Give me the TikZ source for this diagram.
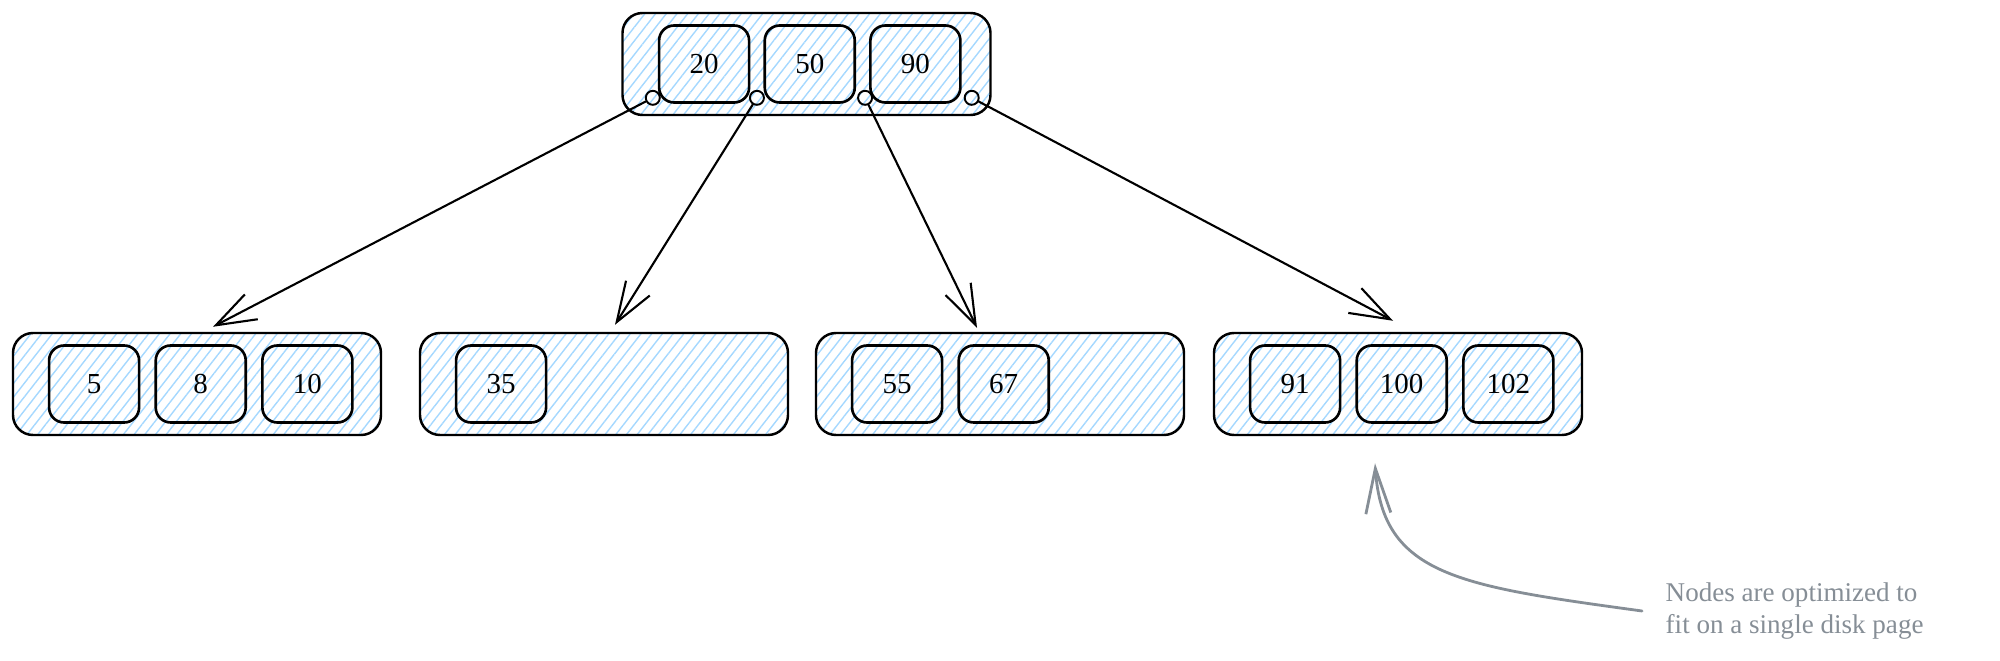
\documentclass[tikz,border=0pt]{standalone}
\usepackage{fontspec}
\setmainfont{Liberation Serif}
\usetikzlibrary{positioning,calc,arrows.meta,patterns.meta}
\definecolor{hatch}{HTML}{A5D8FF}
\definecolor{notegray}{HTML}{868E96}

\begin{document}
\begin{tikzpicture}[>={Straight Barb[length=0.8cm,width=0.56cm]},
    page/.style={draw,line width=1.4pt,rounded corners=0.4cm,
      minimum width=7.36cm,minimum height=2.04cm,
      pattern={Lines[angle=52,distance=4.8pt,line width=0.8pt]},pattern color=hatch},
    key/.style={draw,line width=1.5pt,rounded corners=0.3cm,
      minimum width=1.8cm,minimum height=1.54cm,inner sep=0pt,
      font=\fontsize{16.5}{19}\selectfont},
    ptr/.style={draw,circle,line width=1.1pt,minimum size=0.28cm,inner sep=0pt},
    link/.style={->,line width=1.2pt,line cap=round},
    note/.style={text=notegray,align=left,font=\fontsize{15.4}{17.8}\selectfont}]
  \useasboundingbox (0,0) rectangle (40,13.22);

  % root page
  \node[page] (root) at (16.13,11.94) {};
  \node[key,right=0.72cm of root.west] (k20) {20};
  \node[key,right=0.26cm of k20] (k50) {50};
  \node[key,right=0.26cm of k50] (k90) {90};
  \node[ptr] (p1) at ($(k20.south west)+(-0.1,0.12)$) {};
  \node[ptr] (p2) at ($(k20.south east)!0.5!(k50.south west)+(0,0.12)$) {};
  \node[ptr] (p3) at ($(k50.south east)!0.5!(k90.south west)+(0.05,0.12)$) {};
  \node[ptr] (p4) at ($(k90.south east)+(0.2,0.12)$) {};

  % leaf pages
  \node[page] (l1) at (3.94,5.54) {};
  \node[page] (l2) at (12.08,5.54) {};
  \node[page] (l3) at (20.0,5.54) {};
  \node[page] (l4) at (27.96,5.54) {};

  \node[key,right=0.72cm of l1.west] (k5) {5};
  \node[key,right=0.28cm of k5] (k8) {8};
  \node[key,right=0.28cm of k8] (k10) {10};
  \node[key,right=0.72cm of l2.west] (k35) {35};
  \node[key,right=0.72cm of l3.west] (k55) {55};
  \node[key,right=0.28cm of k55] (k67) {67};
  \node[key,right=0.72cm of l4.west] (k91) {91};
  \node[key,right=0.28cm of k91] (k100) {100};
  \node[key,right=0.28cm of k100] (k102) {102};

  % child pointers
  \draw[link] (p1) -- ([xshift=0.32cm,yshift=0.1cm]l1.north);
  \draw[link] (p2) -- ([xshift=0.22cm,yshift=0.14cm]l2.north);
  \draw[link] (p3) -- ([xshift=-0.46cm,yshift=0.08cm]l3.north);
  \draw[link] (p4) -- ([xshift=-0.1cm,yshift=0.22cm]l4.north);

  % annotation
  \node[note,anchor=west] (note) at (33.19,1.0)
    {Nodes are optimized to\\fit on a single disk page};
  \coordinate (aim) at ([xshift=-0.46cm,yshift=-0.54cm]l4.south);
  \draw[->,>={Straight Barb[length=0.9cm,width=0.5cm]},notegray,
    line width=1.6pt,line cap=round]
    ([xshift=-0.35cm]note.west) .. controls (29.2,1.5) and (27.65,1.7) .. (aim);
\end{tikzpicture}
\end{document}
